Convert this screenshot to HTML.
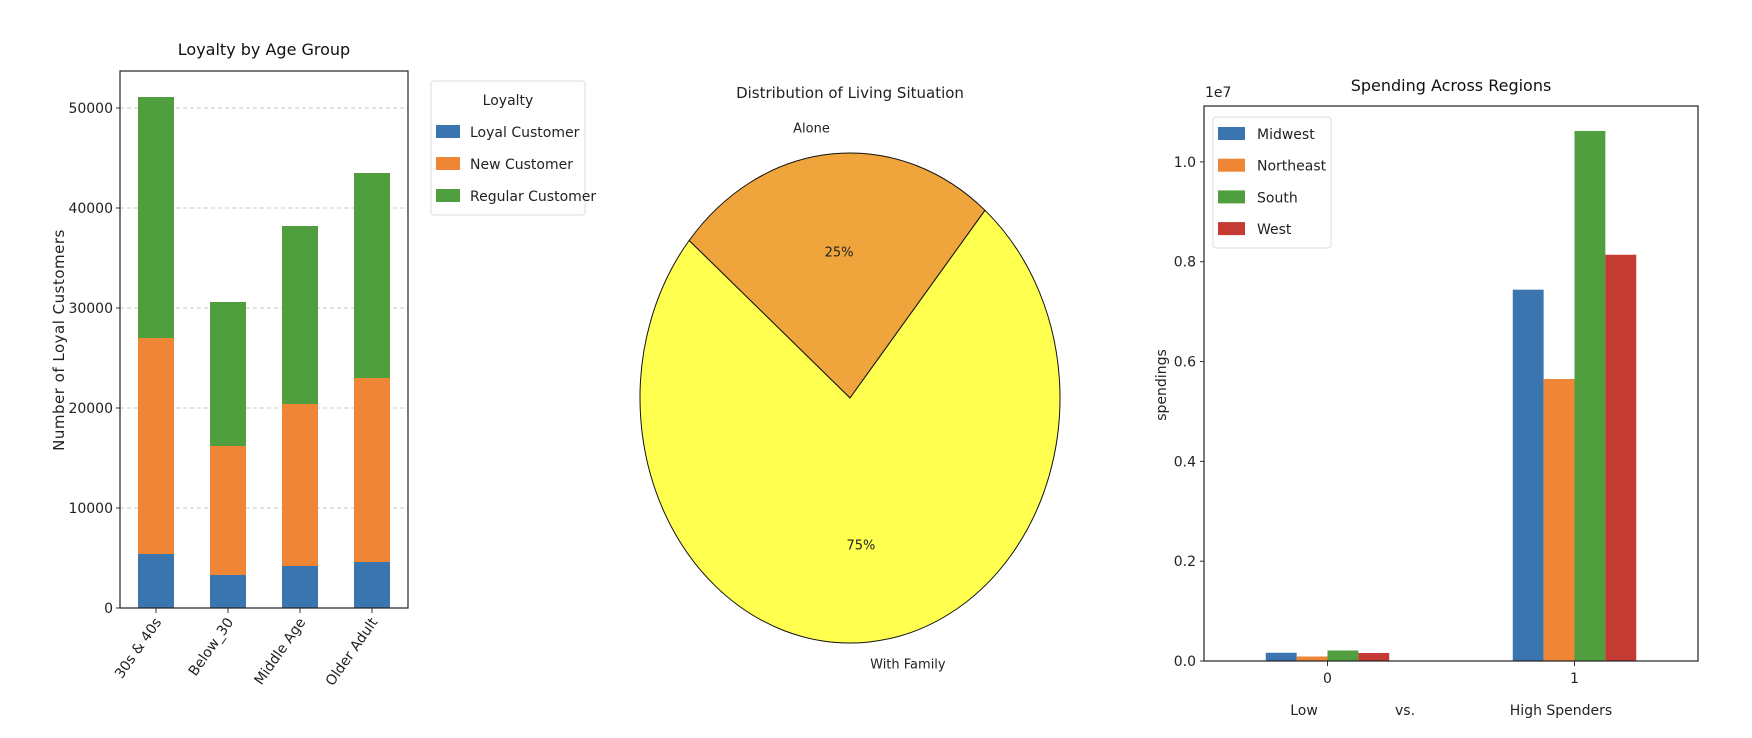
<!DOCTYPE html>
<html><head><meta charset="utf-8"><style>
html,body{margin:0;padding:0;background:#fff;}
svg{display:block;font-family:"DejaVu Sans","Liberation Sans",sans-serif;}
</style></head><body>
<svg id="fig" width="1752" height="738" viewBox="0 0 1752 738" xmlns="http://www.w3.org/2000/svg">
  <g id="c1"></g>
  <g id="c2"></g>
  <g id="c3"></g>
</svg>
<script>
const ageGroups = ["30s & 40s", "Below_30", "Middle Age", "Older Adult"];
const loyalVals = [5400, 3300, 4200, 4600];
const newVals = [21600, 12900, 16200, 18400];
const regularVals = [24100, 14400, 17800, 20500];
const loyaltyTicks = [0, 10000, 20000, 30000, 40000, 50000];
const loyaltySeries = ["Loyal Customer", "New Customer", "Regular Customer"];

const pieLabels = ["Alone", "With Family"];
const pieValues = [25, 75];

const spendCats = ["0", "1"];
const regions = ["Midwest", "Northeast", "South", "West"];
const midwestVals = [165000, 7440000];
const northeastVals = [90000, 5650000];
const southVals = [210000, 10620000];
const westVals = [160000, 8140000];
const spendTicks = [0, 0.2, 0.4, 0.6, 0.8, 1.0];

const NS = "http://www.w3.org/2000/svg";
const BLUE="#3a75af", ORANGE="#ef8636", GREEN="#519e3e", RED="#c53a32";
function mk(parent, tag, attrs, text){
  const e=document.createElementNS(NS,tag);
  for(const k in attrs) e.setAttribute(k, attrs[k]);
  if(text!==undefined) e.textContent=text;
  parent.appendChild(e); return e;
}

/* ---------- Chart 1 ---------- */
(function(){
  const g=document.getElementById('c1');
  const L=120,R=408,T=71,B=608, ymax=53700;
  const y=v=>B-(v/ymax)*(B-T);
  const x=i=>L+(i+0.5)/4*(R-L);
  const bw=0.5*(R-L)/4;
  loyaltyTicks.forEach(t=>{
    if(t>0){const gl=mk(g,'line',{x1:L,x2:R,y1:y(t),y2:y(t),stroke:'#c8c8c8','stroke-dasharray':'4,3','stroke-width':1});
    
    }
    const tk=mk(g,'line',{x1:L-4,x2:L,y1:y(t),y2:y(t),stroke:'#333'});
    
    
    const tl=mk(g,'text',{x:L-7,y:y(t)+5,'text-anchor':'end','font-size':14,fill:'#222'},String(t));
    
    
  });
  const series=[loyalVals,newVals,regularVals], cols=[BLUE,ORANGE,GREEN];
  ageGroups.forEach((c,i)=>{
    let base=0;
    series.forEach((s,k)=>{
      const r=mk(g,'rect',{x:x(i)-bw/2,y:y(base+s[i]),width:bw,height:y(base)-y(base+s[i]),fill:cols[k]});
      
      
      base+=s[i];
    });
    const tk=mk(g,'line',{x1:x(i),x2:x(i),y1:B,y2:B+5,stroke:'#333'});
    
    
    const tl=mk(g,'text',{x:x(i)+6,y:B+14,'text-anchor':'end','font-size':14,fill:'#222',transform:`rotate(-55 ${x(i)+6} ${B+14})`},c);
    
    
  });
  const ax=mk(g,'rect',{x:L,y:T,width:R-L,height:B-T,fill:'none',stroke:'#222','stroke-width':1.2});
  
  
  const ti=mk(g,'text',{x:(L+R)/2,y:55,'text-anchor':'middle','font-size':16,fill:'#111'},'Loyalty by Age Group');
  
  
  const yl=mk(g,'text',{x:0,y:0,'text-anchor':'middle','font-size':15,fill:'#222','letter-spacing':'0.5',transform:'translate(64 340) rotate(-90)'},'Number of Loyal Customers');
  
  
  const lg=mk(g,'g',{});
  
  
  mk(lg,'rect',{x:431,y:81,width:154,height:134,rx:3,fill:'#fff',stroke:'#ddd'});
  mk(lg,'text',{x:508,y:105,'text-anchor':'middle','font-size':14,fill:'#222'},'Loyalty');
  loyaltySeries.forEach((s,k)=>{
    const e=mk(lg,'g',{});
    
    
    mk(e,'rect',{x:436,y:125+k*32,width:24,height:13,fill:cols[k]});
    mk(e,'text',{x:470,y:137+k*32,'font-size':14,fill:'#222'},s);
  });
})();

/* ---------- Chart 2: pie ---------- */
(function(){
  const g=document.getElementById('c2');
  const cx=850,cy=398,rx=210,ry=245;
  const cols=["#f0a53c","#ffff50"];
  const total=pieValues.reduce((a,b)=>a+b,0);
  let a0=50;
  const pt=(a,f)=>[cx+f*rx*Math.cos(a*Math.PI/180), cy-f*ry*Math.sin(a*Math.PI/180)];
  pieValues.forEach((v,i)=>{
    const sweep=v/total*360, a1=a0+sweep;
    const p0=pt(a0,1), p1=pt(a1,1);
    const large=sweep>180?1:0;
    const w=mk(g,'path',{d:`M${cx},${cy} L${p0[0]},${p0[1]} A${rx},${ry} 0 ${large} 0 ${p1[0]},${p1[1]} Z`,fill:cols[i],stroke:'#111','stroke-width':1});
    
    
    const mid=(a0+a1)/2;
    const lp=pt(mid,1.1), pp=pt(mid,0.6);
    const cosm=Math.cos(mid*Math.PI/180), sinm=Math.sin(mid*Math.PI/180);
    const lt=mk(g,'text',{x:lp[0],y:sinm>0?lp[1]+3:lp[1]+2,'text-anchor':cosm<0?'end':'start','font-size':13,fill:'#222'},pieLabels[i]);
    
    
    const pc=mk(g,'text',{x:pp[0],y:pp[1]+5,'text-anchor':'middle','font-size':13,fill:'#222'},Math.round(v/total*100)+'%');
    
    
    a0=a1;
  });
  const ti=mk(g,'text',{x:850,y:98,'text-anchor':'middle','font-size':15,fill:'#222'},'Distribution of Living Situation');
  
  
})();

/* ---------- Chart 3 ---------- */
(function(){
  const g=document.getElementById('c3');
  const L=1204,R=1698,T=106,B=661, ymax=1.112e7;
  const y=v=>B-(v/ymax)*(B-T);
  const x=u=>L+(u+0.5)/2*(R-L);
  const series=[midwestVals,northeastVals,southVals,westVals], cols=[BLUE,ORANGE,GREEN,RED];
  const bw=0.125;
  spendCats.forEach((c,i)=>{
    series.forEach((s,k)=>{
      const x0=x(i-0.25+k*bw), x1=x(i-0.25+(k+1)*bw);
      const r=mk(g,'rect',{x:x0,y:y(s[i]),width:x1-x0,height:B-y(s[i]),fill:cols[k]});
      
      
    });
    const tk=mk(g,'line',{x1:x(i),x2:x(i),y1:B,y2:B+5,stroke:'#333'});
    
    
    const tl=mk(g,'text',{x:x(i),y:B+22,'text-anchor':'middle','font-size':14,fill:'#222'},c);
    
    
  });
  spendTicks.forEach(t=>{
    const tk=mk(g,'line',{x1:L-4,x2:L,y1:y(t*1e7),y2:y(t*1e7),stroke:'#333'});
    
    
    const tl=mk(g,'text',{x:L-8,y:y(t*1e7)+5,'text-anchor':'end','font-size':14,fill:'#222'},t.toFixed(1));
    
    
  });
  const ax=mk(g,'rect',{x:L,y:T,width:R-L,height:B-T,fill:'none',stroke:'#222','stroke-width':1.2});
  
  
  const ti=mk(g,'text',{x:(L+R)/2,y:91,'text-anchor':'middle','font-size':16,fill:'#111'},'Spending Across Regions');
  
  
  const ex=mk(g,'text',{x:1205,y:97,'font-size':14,fill:'#222'},'1e7');
  
  
  const yl=mk(g,'text',{x:0,y:0,'text-anchor':'middle','font-size':14,fill:'#222',transform:'translate(1166 385) rotate(-90)'},'spendings');
  
  
  const xl=mk(g,'g',{});
  
  
  mk(xl,'text',{x:1304,y:715,'text-anchor':'middle','font-size':14,fill:'#222'},'Low');
  mk(xl,'text',{x:1405,y:715,'text-anchor':'middle','font-size':14,fill:'#222'},'vs.');
  mk(xl,'text',{x:1561,y:715,'text-anchor':'middle','font-size':14,fill:'#222'},'High Spenders');
  const lg=mk(g,'g',{});
  
  
  mk(lg,'rect',{x:1213,y:117,width:118,height:131,rx:3,fill:'#fff',stroke:'#ddd'});
  regions.forEach((s,k)=>{
    const e=mk(lg,'g',{});
    
    
    mk(e,'rect',{x:1218,y:127+k*31.7,width:27,height:13,fill:cols[k]});
    mk(e,'text',{x:1257,y:139+k*31.7,'font-size':14,fill:'#222'},s);
  });
})();
</script>
</body></html>
